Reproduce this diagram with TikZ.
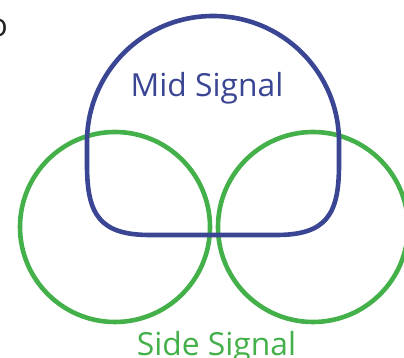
\documentclass[tikz,border=0pt]{standalone}
\usepackage{fontspec}
\setmainfont{Open Sans}
\definecolor{midblue}{HTML}{3A4694}
\definecolor{sidegreen}{HTML}{44B04A}
\definecolor{txtgray}{HTML}{222222}
\tikzset{
  lobe/.style={line width=4.6pt},
  lbl/.style={anchor=base, inner sep=0pt, font=\fontsize{31.8}{34}\selectfont}
}
\begin{document}
\begin{tikzpicture}[x=1pt,y=1pt]
\useasboundingbox (0,0) rectangle (404,358);
\clip (0,0) rectangle (404,358);
% side signal circles
\draw[lobe, sidegreen] (115,131) circle[radius=95];
\draw[lobe, sidegreen] (313,131) circle[radius=95];
% mid signal lobe
\draw[lobe, midblue] (87,216) arc[start angle=180, end angle=0, radius=126]
  -- (339,193) .. controls (339,143) and (326,123) .. (276,123)
  -- (150,123) .. controls (100,123) and (87,143) .. (87,193) -- cycle;
\node[lbl, text=midblue] (mid) at (207,261) {Mid Signal};
\node[lbl, text=sidegreen] (side) at (216.5,2) {Side Signal};
\node[lbl, text=txtgray, anchor=base east] (cut) at (8,321) {o};
\end{tikzpicture}
\end{document}
